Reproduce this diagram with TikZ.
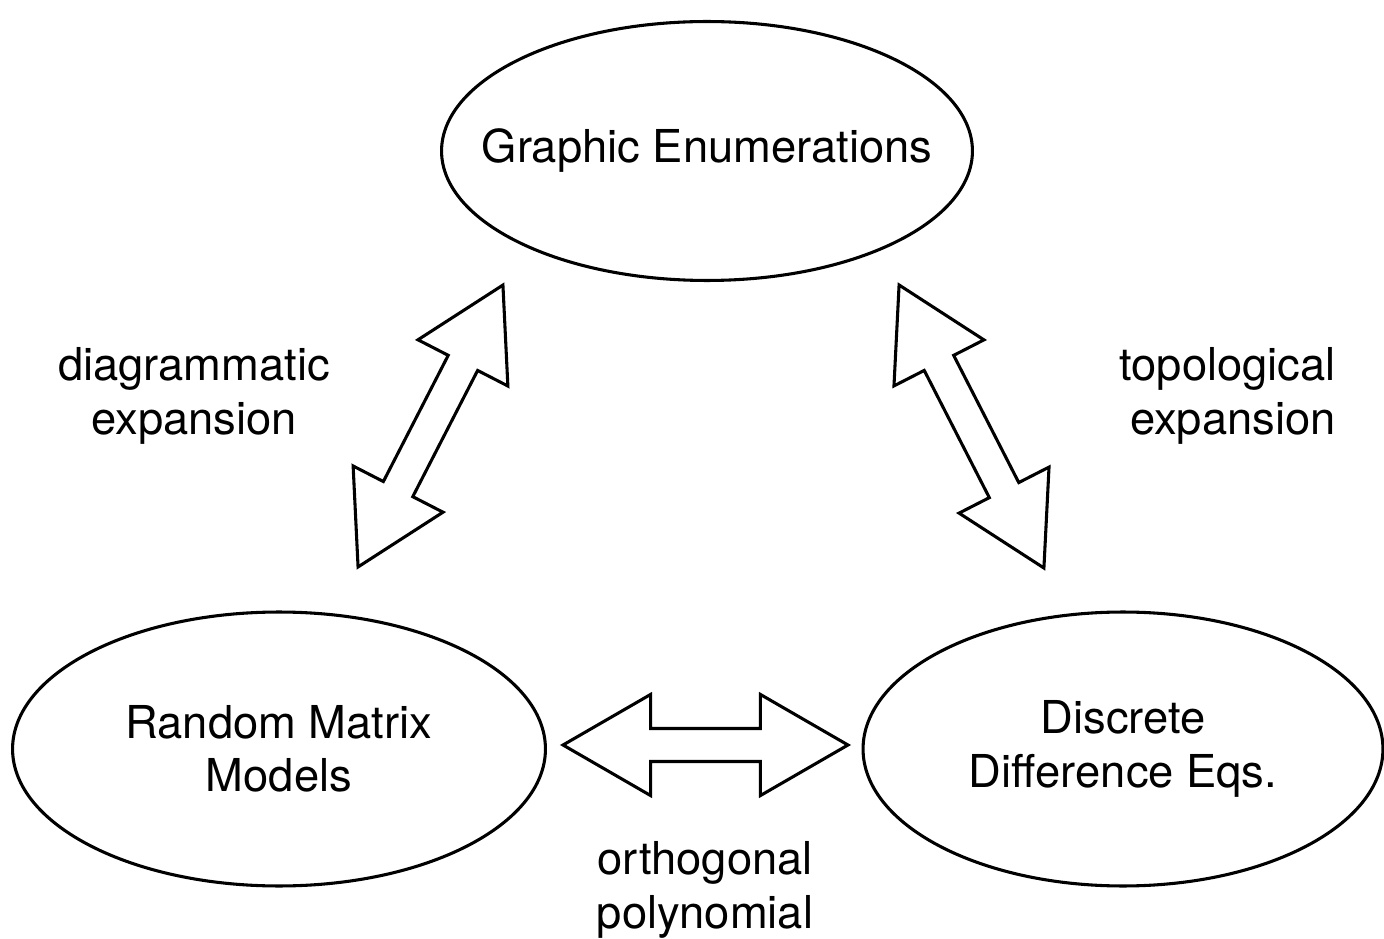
\documentclass[tikz,border=0pt]{standalone}
\usepackage{fontspec}
\setmainfont{TeX Gyre Heros}
\usetikzlibrary{positioning,shapes.geometric,shapes.arrows}

\tikzset{
  bubble/.style={draw, ellipse, line width=1.75pt, align=center, inner sep=0pt,
    font=\fontsize{25.8pt}{30.5pt}\selectfont},
  twoway/.style={draw, shape=double arrow, line width=1.75pt, inner xsep=0pt, inner ysep=0.3cm,
    double arrow head extend=0.68cm, double arrow tip angle=60, minimum width=0pt},
  tag/.style={inner sep=0pt, font=\fontsize{25.8pt}{30.5pt}\selectfont}
}

\begin{document}
\begin{tikzpicture}[x=0.02cm, y=-0.02cm]
\useasboundingbox (0,0) rectangle (1384,939);

% the three topics
\node[bubble, inner xsep=-1.2cm, minimum width=10.62cm, minimum height=5.18cm] (graph) at (707,151) {Graphic Enumerations};
\node[bubble, minimum width=10.66cm, minimum height=5.48cm] (matrix) at (279,749) {Random Matrix\\Models};
\node[bubble, minimum width=10.40cm, minimum height=5.48cm] (diffeq) at (1123,749) {Discrete\\Difference Eqs.};

% the links between them
\node[twoway, minimum height=6.34cm, rotate=62.8] (leftlink) at (430.5,426) {};
\node[twoway, minimum height=6.36cm, rotate=-62.9] (rightlink) at (971.5,426.5) {};
\node[twoway, minimum height=5.70cm] (bottomlink) at (705.5,745) {};

% what the links stand for
\node[tag, align=center] (diaglabel) at (194,396) {diagrammatic\\expansion};
\node[tag, align=right, anchor=east] (topolabel) at (1336,396) {topological\\expansion};
\node[tag, align=center] (ortholabel) at (705,890) {orthogonal\\polynomial};
\end{tikzpicture}
\end{document}
